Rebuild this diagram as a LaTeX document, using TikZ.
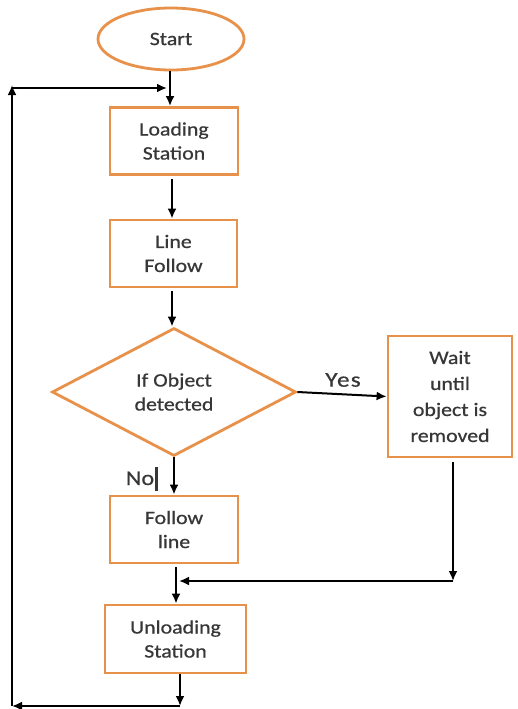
\documentclass[tikz,border=0pt]{standalone}
\usepackage{fontspec}
\setmainfont{Carlito}[FakeStretch=1.15, FakeBold=0.6]
\newfontfamily\spacedfont{Carlito}[FakeStretch=1.2, FakeBold=0.6, LetterSpace=6]
\usetikzlibrary{shapes.geometric,arrows.meta}
\definecolor{boxorange}{RGB}{232,145,75}
\definecolor{txtgray}{RGB}{55,55,55}
\begin{document}
\begin{tikzpicture}[x=1pt,y=-1pt,
  flowbox/.style={draw=boxorange, line width=2.8pt, fill=white, text=txtgray,
    align=center, inner sep=0pt, font=\fontsize{19}{24}\selectfont},
  arr/.style={-{Latex[length=10pt,width=9pt]}, line width=2pt, black},
  lbl/.style={text=txtgray, inner sep=0pt, font=\fontsize{21}{24}\selectfont}]
\useasboundingbox (0,0) rectangle (517,709);

% process steps
\node[flowbox, ellipse, minimum width=146pt, minimum height=62pt] (start) at (171,39) {Start};
\node[flowbox, minimum width=128pt, minimum height=67pt] (load) at (174,141) {Loading\\Station};
\node[flowbox, minimum width=127pt, minimum height=67pt] (follow) at (173.5,253.5) {Line\\Follow};
\node[flowbox, diamond, aspect=1.9, minimum width=244pt, minimum height=128pt] (dec) at (174,392) {If Object\\detected};
\node[flowbox, minimum width=124pt, minimum height=121pt, font=\fontsize{19}{26}\selectfont] (wait) at (450,396.5) {Wait\\until\\object is\\removed};
\node[flowbox, minimum width=128pt, minimum height=67pt] (fl) at (174,529.5) {Follow\\line};
\node[flowbox, minimum width=141pt, minimum height=68pt] (unl) at (175.5,639) {Unloading\\Station};

% branch labels
\node[lbl, font=\spacedfont\fontsize{21}{24}\selectfont] (yes) at (343,380) {Yes};
\node[lbl] (no) at (142,479) {No\hspace{1pt}\rule[-6pt]{3pt}{24pt}};

% junction points
\coordinate (jl) at (167,88);
\coordinate (tl) at (12,85);
\coordinate (bl) at (180,706);
\coordinate (blx) at (12,706);
\coordinate (mr) at (453,581);
\coordinate (ml) at (179,581);

% main flow
\draw[arr] ([xshift=-1pt]start.south) -- ([xshift=-1pt]start.south |- load.north);
\draw[arr, shorten <=3pt] ([xshift=-2pt]load.south) -- ([xshift=-2pt]load.south |- follow.north);
\draw[arr, shorten <=3pt] ([xshift=-1.5pt]follow.south) -- ([xshift=-1.5pt]follow.south |- dec.north);
\draw[arr] (dec.east) -- (wait.west);
\draw[arr] (dec.south) -- (dec.south |- fl.north);
\draw[arr, shorten <=3pt] ([xshift=2pt]fl.south) -- ([xshift=2pt]fl.south |- unl.north);

% merge from the waiting branch
\draw[arr, shorten <=4pt] (wait.south -| mr) -- (mr);
\draw[arr] (mr) -- (ml);

% return loop
\draw[arr] (unl.south -| bl) -- (bl);
\draw[arr] (bl) -- (blx);
\draw[arr] (blx) -- (tl);
\draw[arr] (tl |- jl) -- (jl);
\end{tikzpicture}
\end{document}
